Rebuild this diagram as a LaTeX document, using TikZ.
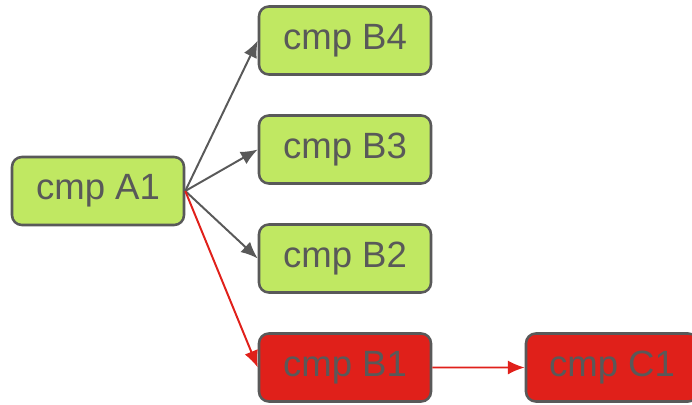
\documentclass[tikz,border=0pt]{standalone}
\usepackage{fontspec}
\setmainfont{Liberation Sans}
\usetikzlibrary{arrows.meta}
\definecolor{linegray}{HTML}{595959}
\definecolor{leafgreen}{HTML}{C0E862}
\definecolor{alertred}{HTML}{E0201A}

\begin{document}
\begin{tikzpicture}[grow'=right,
  level 1/.style={level distance=6.175cm, sibling distance=2.725cm,
    every child node/.style={yshift=-0.325cm}},
  level 2/.style={level distance=6.675cm,
    every child node/.style={}},
  every node/.style = {shape=rectangle, rounded corners=7pt,
    draw=linegray, line width=1.8pt, fill=leafgreen, text=linegray,
    minimum width=4.3cm, minimum height=1.7cm,
    font=\fontsize{26}{31}\selectfont},
  hot/.style={fill=alertred},
  edge from parent/.style={draw=linegray, line width=1.4pt,
    -{Latex[length=12pt,width=10pt]}},
  edge from parent path={(\tikzparentnode.east) -- (\tikzchildnode.west)}]
  \clip (0,0) rectangle (17.3,-10.1);
  \node (a1) at (2.45,-4.775) {cmp A1}
    child { node (b4) {cmp B4}}
    child { node (b3) {cmp B3}}
    child { node (b2) {cmp B2}}
    child { node[hot] (b1) {cmp B1}
      child { node[hot] (c1) {cmp C1}
        edge from parent[draw=alertred]}
      edge from parent[draw=alertred]};
\end{tikzpicture}
\end{document}
